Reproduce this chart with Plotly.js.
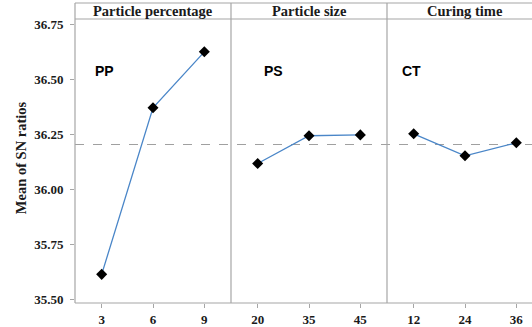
<!DOCTYPE html>
<html><head><meta charset="utf-8">
<script src="https://cdn.plot.ly/plotly-3.0.1.min.js"></script>
<style>html,body{margin:0;padding:0;overflow:hidden;background:#fff;}</style>
</head><body><div id="chart"></div>
<script>
const factors = ["Particle percentage", "Particle size", "Curing time"];
const shortLabels = ["PP", "PS", "CT"];
const levelsPP = ["3", "6", "9"];
const levelsPS = ["20", "35", "45"];
const levelsCT = ["12", "24", "36"];
const snPP = [35.616, 36.372, 36.626];
const snPS = [36.119, 36.245, 36.249];
const snCT = [36.254, 36.154, 36.213];
const yTicks = [35.50, 35.75, 36.00, 36.25, 36.50, 36.75];

const levels = [levelsPP, levelsPS, levelsCT];
const values = [snPP, snPS, snCT];
const all = values.flat();
const grand = all.reduce((a,b)=>a+b,0)/all.length;

const frame = "#a6a6a6";
const serifBold = {family: "Liberation Serif, Times New Roman, serif", size: 13, color: "#1a1a1a", weight: "bold"};
const stripH = 16/284;

const traces = levels.map((lv, i) => ({
  type: "scatter", mode: "lines+markers",
  x: lv, y: values[i],
  xaxis: i === 0 ? "x" : "x" + (i+1), yaxis: "y",
  line: {color: "#4a86c8", width: 1.3},
  marker: {symbol: "diamond", size: 8.5, color: "#000"},
  showlegend: false, hoverinfo: "skip"
}));

const layout = {
  width: 545, height: 327,
  margin: {l: 75, r: 2, t: 19, b: 24},
  paper_bgcolor: "#fff", plot_bgcolor: "#fff",
  yaxis: {
    range: [35.486, 36.775], tickvals: yTicks, ticktext: yTicks.map(v => v.toFixed(2)),
    ticks: "outside", ticklen: 4, tickcolor: frame, showgrid: false, zeroline: false,
    showline: false, tickfont: serifBold, anchor: "x", ticklabelstandoff: 4
  },
  annotations: [],
  shapes: []
};
for (let i = 0; i < 3; i++) {
  const key = i === 0 ? "xaxis" : "xaxis" + (i+1);
  layout[key] = {
    type: "category", domain: [i/3, (i+1)/3], anchor: "y",
    range: [-0.52, 2.52], ticks: "outside", ticklen: 4, tickcolor: frame,
    showgrid: false, zeroline: false, showline: false, tickfont: serifBold,
    categoryorder: "array", categoryarray: levels[i]
  };
  layout.annotations.push({
    xref: "paper", yref: "paper", x: (i + 0.5)/3, y: 1 + stripH/2,
    text: "<b>" + factors[i] + "</b>", showarrow: false,
    font: {family: "Liberation Serif, Times New Roman, serif", size: 14.5, color: "#1a1a1a"},
    xanchor: "center", yanchor: "middle"
  });
  const lx = [0.115, 0.2, 0.083][i];
  layout.annotations.push({
    xref: "paper", yref: "paper", x: (i + lx)/3, y: 0.818,
    text: "<b>" + shortLabels[i] + "</b>", showarrow: false,
    font: {family: "Liberation Sans, Arial, sans-serif", size: 14, color: "#000"},
    xanchor: "left", yanchor: "middle"
  });
  layout.shapes.push({type: "line", xref: "paper", yref: "paper", x0: i/3, x1: i/3, y0: 0, y1: 1 + stripH,
    line: {color: frame, width: 1.2}});
}
layout.annotations.push({
  xref: "paper", yref: "paper", x: 0, y: 0.51, xshift: -54,
  text: "<b>Mean of SN ratios</b>", showarrow: false, textangle: -90,
  font: {family: "Liberation Serif, Times New Roman, serif", size: 14.5, color: "#1a1a1a"},
  xanchor: "center", yanchor: "middle"
});
layout.shapes.push(
  {type: "line", xref: "paper", yref: "paper", x0: 1, x1: 1, y0: 0, y1: 1 + stripH, line: {color: frame, width: 1.2}},
  {type: "line", xref: "paper", yref: "paper", x0: 0, x1: 1, y0: 0, y1: 0, line: {color: frame, width: 1.2}},
  {type: "line", xref: "paper", yref: "paper", x0: 0, x1: 1, y0: 1, y1: 1, line: {color: frame, width: 1.2}},
  {type: "line", xref: "paper", yref: "paper", x0: 0, x1: 1, y0: 1 + stripH, y1: 1 + stripH, line: {color: frame, width: 1.2}},
  {type: "line", xref: "paper", yref: "y", x0: 0, x1: 1, y0: grand, y1: grand, line: {color: "#a0a0a0", width: 1, dash: "dash"}, layer: "below"}
);

Plotly.newPlot("chart", traces, layout, {displayModeBar: false, staticPlot: true});
</script></body></html>
